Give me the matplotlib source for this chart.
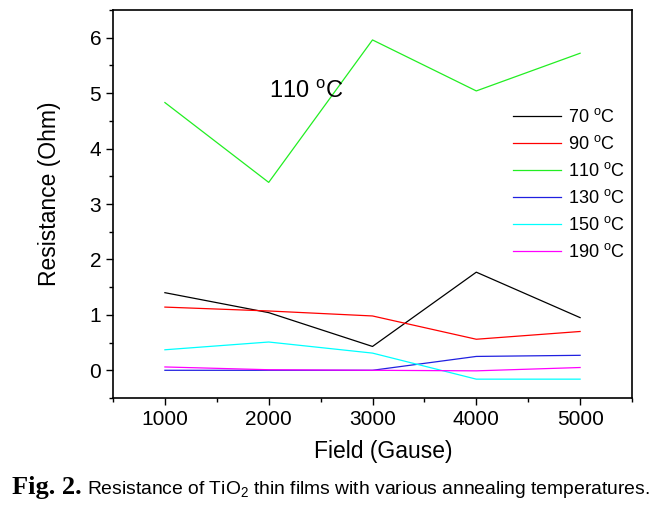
import numpy as np
import matplotlib
matplotlib.use("Agg")
import matplotlib.pyplot as plt
from matplotlib.ticker import MultipleLocator

plt.rcParams['font.family'] = ['Liberation Sans', 'DejaVu Sans']
plt.rcParams['mathtext.fontset'] = 'custom'
plt.rcParams['mathtext.rm'] = 'Liberation Sans'
plt.rcParams['mathtext.it'] = 'Liberation Sans:italic'
plt.rcParams['mathtext.bf'] = 'Liberation Sans:bold'

# データ
field = [1000, 2000, 3000, 4000, 5000]
r_70 = [1.40, 1.04, 0.43, 1.77, 0.95]
r_90 = [1.14, 1.07, 0.98, 0.56, 0.70]
r_110 = [4.83, 3.39, 5.96, 5.04, 5.72]
r_130 = [0.00, 0.00, 0.00, 0.25, 0.27]
r_150 = [0.37, 0.51, 0.31, -0.16, -0.16]
r_190 = [0.06, 0.01, 0.00, -0.01, 0.05]

labels = ['70', '90', '110', '130', '150', '190']
colors = ['black', 'red', '#22ee22', '#2020e0', 'cyan', 'magenta']
series = [r_70, r_90, r_110, r_130, r_150, r_190]

fig = plt.figure(figsize=(6.69, 5.07), dpi=100)
ax = fig.add_axes([113/669, 1-398/507, (632-113)/669, (398-10)/507])

for lab, col, vals in zip(labels, colors, series):
    ax.plot(field, vals, color=col, lw=0.9, label=lab + r' $^\mathrm{o}$C')

ax.set_xlim(500, 5500)
ax.set_ylim(-0.5, 6.5)
ax.xaxis.set_major_locator(MultipleLocator(1000))
ax.xaxis.set_minor_locator(MultipleLocator(500))
ax.yaxis.set_major_locator(MultipleLocator(1))
ax.yaxis.set_minor_locator(MultipleLocator(0.5))
ax.tick_params(which='both', direction='out', top=False, right=False, width=1.0, labelsize=15)
ax.tick_params(which='major', length=5)
ax.tick_params(which='minor', length=3)
for sp in ax.spines.values():
    sp.set_linewidth(1.2)

ax.set_xlabel('Field (Gause)', fontsize=16.5)
ax.xaxis.set_label_coords(0.521, -0.108)
ax.set_ylabel('Resistance (Ohm)', fontsize=16.5)
ax.yaxis.set_label_coords(-0.10, 0.527)

ax.text(2000, 5.02, r'110 $^\mathrm{o}$C', fontsize=17, ha='left', va='center')

ax.legend(loc='upper left', bbox_to_anchor=(513/669, 1-108/507), bbox_transform=fig.transFigure,
          frameon=False, fontsize=13, handlelength=2.67, handletextpad=0.35,
          labelspacing=0.5, borderpad=0, borderaxespad=0)

# キャプション
t1 = fig.text(12/669, 1-494/507, 'Fig. 2.', fontsize=19, fontweight='bold',
              family='Liberation Serif', va='baseline')
fig.canvas.draw()
bb = t1.get_window_extent()
fig.text((bb.x1 + 5)/669, 1-494/507,
         r'Resistance of TiO$_2$ thin films with various annealing temperatures.',
         fontsize=13.9, va='baseline')

fig.savefig('out.png', dpi=100)
